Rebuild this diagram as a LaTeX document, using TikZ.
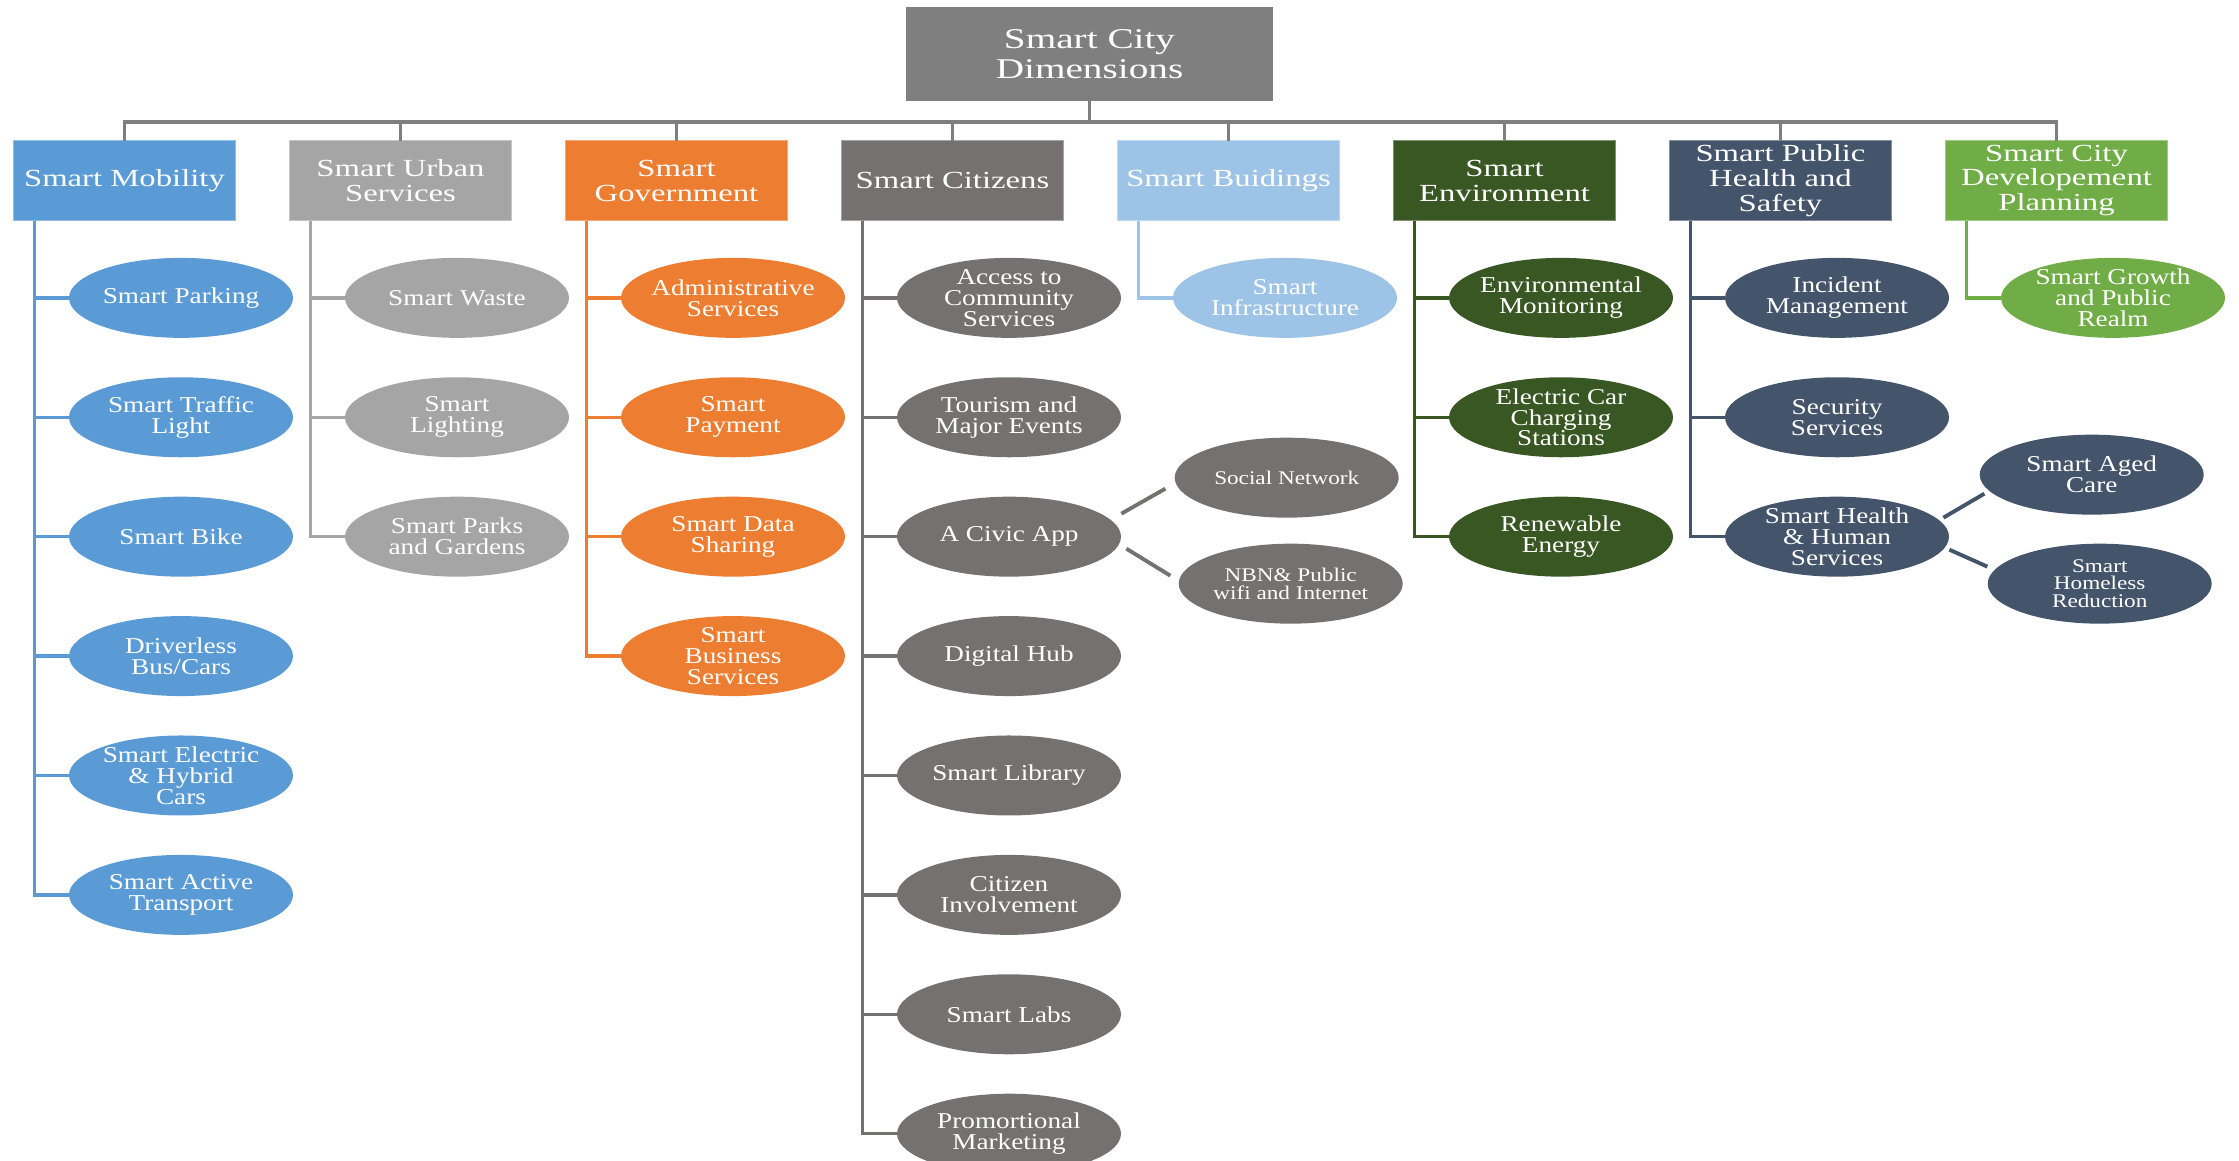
\documentclass[tikz,border=0pt]{standalone}
\usepackage{fontspec}
\setmainfont{Liberation Serif}
\newfontfamily\titlefont[FakeStretch=1.37]{Liberation Serif}
\newfontfamily\dimfont[FakeStretch=1.33]{Liberation Serif}
\newfontfamily\itemfont[FakeStretch=1.2]{Liberation Serif}
\usepackage{xcolor}
\usepackage{tikz}
\usetikzlibrary{shapes,positioning,calc}

\definecolor{topc}{HTML}{7F7F7F}
\definecolor{mobc}{HTML}{5B9BD5}
\definecolor{urbc}{HTML}{A5A5A5}
\definecolor{govc}{HTML}{ED7D31}
\definecolor{citc}{HTML}{767171}
\definecolor{bldc}{HTML}{9DC3E6}
\definecolor{envc}{HTML}{385723}
\definecolor{pubc}{HTML}{44546A}
\definecolor{devc}{HTML}{70AD47}

\begin{document}
\begin{tikzpicture}[
  node distance=0.774cm and 1.08cm,
  root/.style={rectangle, fill=topc, minimum width=7.34cm, minimum height=1.88cm, inner sep=0pt, text=white, align=center, font=\titlefont\fontsize{16.3}{17}\selectfont},
  dim/.style={rectangle, fill=#1, draw=#1!65!white, line width=0.6pt, outer sep=0pt, minimum width=4.44cm, minimum height=1.6cm, inner sep=0pt, text=white, align=center, font=\dimfont\fontsize{14}{14.2}\selectfont},
  item/.style={ellipse, fill=#1, minimum width=4.48cm, minimum height=1.6cm, inner xsep=-0.06cm, inner ysep=-0.15cm, text=white, align=center, font=\itemfont\fontsize{12.9}{11.9}\selectfont},
  smallitem/.style={item=#1, font=\itemfont\fontsize{11}{10}\selectfont},
  link/.style={draw=topc, line width=2.2pt},
  spine/.style={draw=#1, line width=1.9pt},
  twig/.style={draw=#1, line width=2.2pt}
]
\useasboundingbox (0,0) rectangle (44.78,-23.2);

% Root and dimensions
\node[root] (city) at (21.79,-1.08) {Smart City\\Dimensions};
\coordinate (bus) at (0,-2.44);

\node[dim=mobc] (mob) at (2.49,-3.61) {Smart Mobility};
\node[dim=urbc, right=of mob] (urb) {Smart Urban\\Services};
\node[dim=govc, right=of urb] (gov) {Smart\\Government};
\node[dim=citc, right=of gov] (cit) {Smart Citizens};
\node[dim=bldc, right=of cit] (bld) {Smart Buidings};
\node[dim=envc, right=of bld] (env) {Smart\\Environment};
\node[dim=pubc, right=of env] (pub) {Smart Public\\Health and\\Safety};
\node[dim=devc, right=of pub] (dev) {Smart City\\Developement\\Planning};

\draw[link] (city.south) -- (city.south |- bus);
\draw[link] (mob.north) -- (mob.north |- bus) -- (dev.north |- bus) -- (dev.north);
\foreach \d in {urb,gov,cit,bld,env,pub}
  \draw[link] (\d.north |- bus) -- (\d.north);

% Smart Mobility
\node[item=mobc, below=0.74cm of mob, xshift=1.13cm] (mob1) {Smart Parking};
\node[item=mobc, below=of mob1] (mob2) {Smart Traffic\\Light};
\node[item=mobc, below=of mob2] (mob3) {Smart Bike};
\node[item=mobc, below=of mob3] (mob4) {Driverless\\Bus/Cars};
\node[item=mobc, below=of mob4] (mob5) {Smart Electric\\\& Hybrid\\Cars};
\node[item=mobc, below=of mob5] (mob6) {Smart Active\\Transport};
\foreach \c in {mob1,mob2,mob3,mob4,mob5,mob6}
  \draw[spine=mobc] ([xshift=0.42cm]mob.south west) |- (\c.west);

% Smart Urban Services
\node[item=urbc, below=0.74cm of urb, xshift=1.13cm] (urb1) {Smart Waste};
\node[item=urbc, below=of urb1] (urb2) {Smart\\Lighting};
\node[item=urbc, below=of urb2] (urb3) {Smart Parks\\and Gardens};
\foreach \c in {urb1,urb2,urb3}
  \draw[spine=urbc] ([xshift=0.42cm]urb.south west) |- (\c.west);

% Smart Government
\node[item=govc, below=0.74cm of gov, xshift=1.13cm] (gov1) {Administrative\\Services};
\node[item=govc, below=of gov1] (gov2) {Smart\\Payment};
\node[item=govc, below=of gov2] (gov3) {Smart Data\\Sharing};
\node[item=govc, below=of gov3] (gov4) {Smart\\Business\\Services};
\foreach \c in {gov1,gov2,gov3,gov4}
  \draw[spine=govc] ([xshift=0.42cm]gov.south west) |- (\c.west);

% Smart Citizens
\node[item=citc, below=0.74cm of cit, xshift=1.13cm] (cit1) {Access to\\Community\\Services};
\node[item=citc, below=of cit1] (cit2) {Tourism and\\Major Events};
\node[item=citc, below=of cit2] (cit3) {A Civic App};
\node[item=citc, below=of cit3] (cit4) {Digital Hub};
\node[item=citc, below=of cit4] (cit5) {Smart Library};
\node[item=citc, below=of cit5] (cit6) {Citizen\\Involvement};
\node[item=citc, below=of cit6] (cit7) {Smart Labs};
\node[item=citc, below=of cit7] (cit8) {Promortional\\Marketing};
\foreach \c in {cit1,cit2,cit3,cit4,cit5,cit6,cit7,cit8}
  \draw[spine=citc] ([xshift=0.42cm]cit.south west) |- (\c.west);

\node[smallitem=citc, right=1.06cm of cit3, yshift=1.18cm] (soc) {Social Network};
\node[smallitem=citc, right=1.14cm of cit3, yshift=-0.94cm] (nbn) {NBN\& Public\\wifi and Internet};
\draw[twig=citc] ($(cit3.east)+(0,0.46)$) -- ($(soc.west)+(-0.18,-0.22)$);
\draw[twig=citc] ($(cit3.east)+(0.1,-0.24)$) -- ($(nbn.west)+(-0.16,0.16)$);

% Smart Buidings
\node[item=bldc, below=0.74cm of bld, xshift=1.13cm] (bld1) {Smart\\Infrastructure};
\draw[spine=bldc] ([xshift=0.42cm]bld.south west) |- (bld1.west);

% Smart Environment
\node[item=envc, below=0.74cm of env, xshift=1.13cm] (env1) {Environmental\\Monitoring};
\node[item=envc, below=of env1] (env2) {Electric Car\\Charging\\Stations};
\node[item=envc, below=of env2] (env3) {Renewable\\Energy};
\foreach \c in {env1,env2,env3}
  \draw[spine=envc] ([xshift=0.42cm]env.south west) |- (\c.west);

% Smart Public Health and Safety
\node[item=pubc, below=0.74cm of pub, xshift=1.13cm] (pub1) {Incident\\Management};
\node[item=pubc, below=of pub1] (pub2) {Security\\Services};
\node[item=pubc, below=of pub2] (pub3) {Smart Health\\\& Human\\Services};
\foreach \c in {pub1,pub2,pub3}
  \draw[spine=pubc] ([xshift=0.42cm]pub.south west) |- (\c.west);

\node[item=pubc, right=0.6cm of pub3, yshift=1.24cm] (aged) {Smart Aged\\Care};
\node[smallitem=pubc, right=0.76cm of pub3, yshift=-0.94cm] (homel) {Smart\\Homeless\\Reduction};
\draw[twig=pubc] ($(pub3.east)+(-0.12,0.38)$) -- ($(aged.west)+(0.1,-0.38)$);
\draw[twig=pubc] ($(pub3.east)+(0,-0.26)$) -- ($(homel.west)+(0,0.34)$);

% Smart City Developement Planning
\node[item=devc, below=0.74cm of dev, xshift=1.13cm] (dev1) {Smart Growth\\and Public\\Realm};
\draw[spine=devc] ([xshift=0.42cm]dev.south west) |- (dev1.west);

\end{tikzpicture}
\end{document}
